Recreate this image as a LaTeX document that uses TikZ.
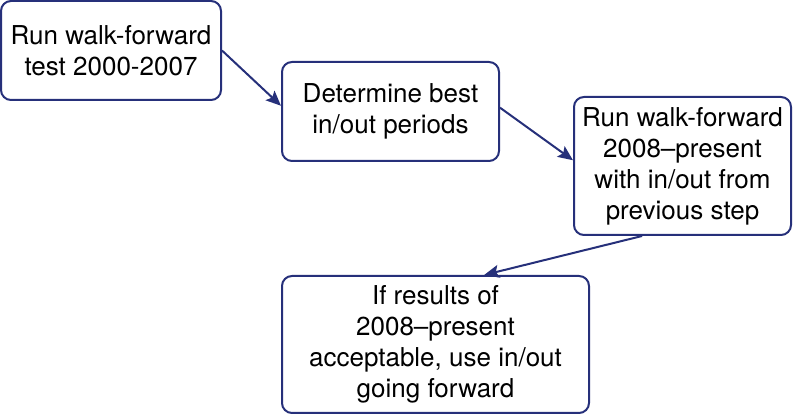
\documentclass[tikz,border=0pt]{standalone}
\usepackage{fontspec}
\setmainfont{TeX Gyre Heros}
\usetikzlibrary{arrows.meta}
\definecolor{navy}{RGB}{38,48,122}
\tikzset{
  stepbox/.style={draw=navy,line width=1pt,rounded corners=5pt,align=center,
    font=\fontsize{13}{15.5}\selectfont,inner sep=2pt},
  flow/.style={draw=navy,line width=1pt,-{Stealth[length=7.5pt,width=6.5pt,inset=1.5pt]},fill=navy}
}
\begin{document}
\begin{tikzpicture}[x=0.5pt,y=-0.5pt]
    \useasboundingbox (0,0) rectangle (800,415);
    \node[stepbox,minimum width=110pt,minimum height=49.5pt] (walk) at (111,50.5)
      {Run walk-forward\\test 2000-2007};
    \node[stepbox,minimum width=108.5pt,minimum height=49.5pt] (best) at (390.5,111.5)
      {Determine best\\in/out periods};
    \node[stepbox,minimum width=108.5pt,minimum height=69pt] (present) at (682.5,166)
      {Run walk-forward\\2008--present\\with in/out from\\previous step};
    \node[stepbox,minimum width=153.5pt,minimum height=68.5pt] (accept) at (435.5,344.5)
      {If results of\\2008--present\\acceptable, use in/out\\going forward};
    \draw[flow] (walk.east) -- (best.177);
    \draw[flow] (best.2) -- (present.177);
    \draw[flow] (present.240) -- (accept.55);
  \end{tikzpicture}
\end{document}
